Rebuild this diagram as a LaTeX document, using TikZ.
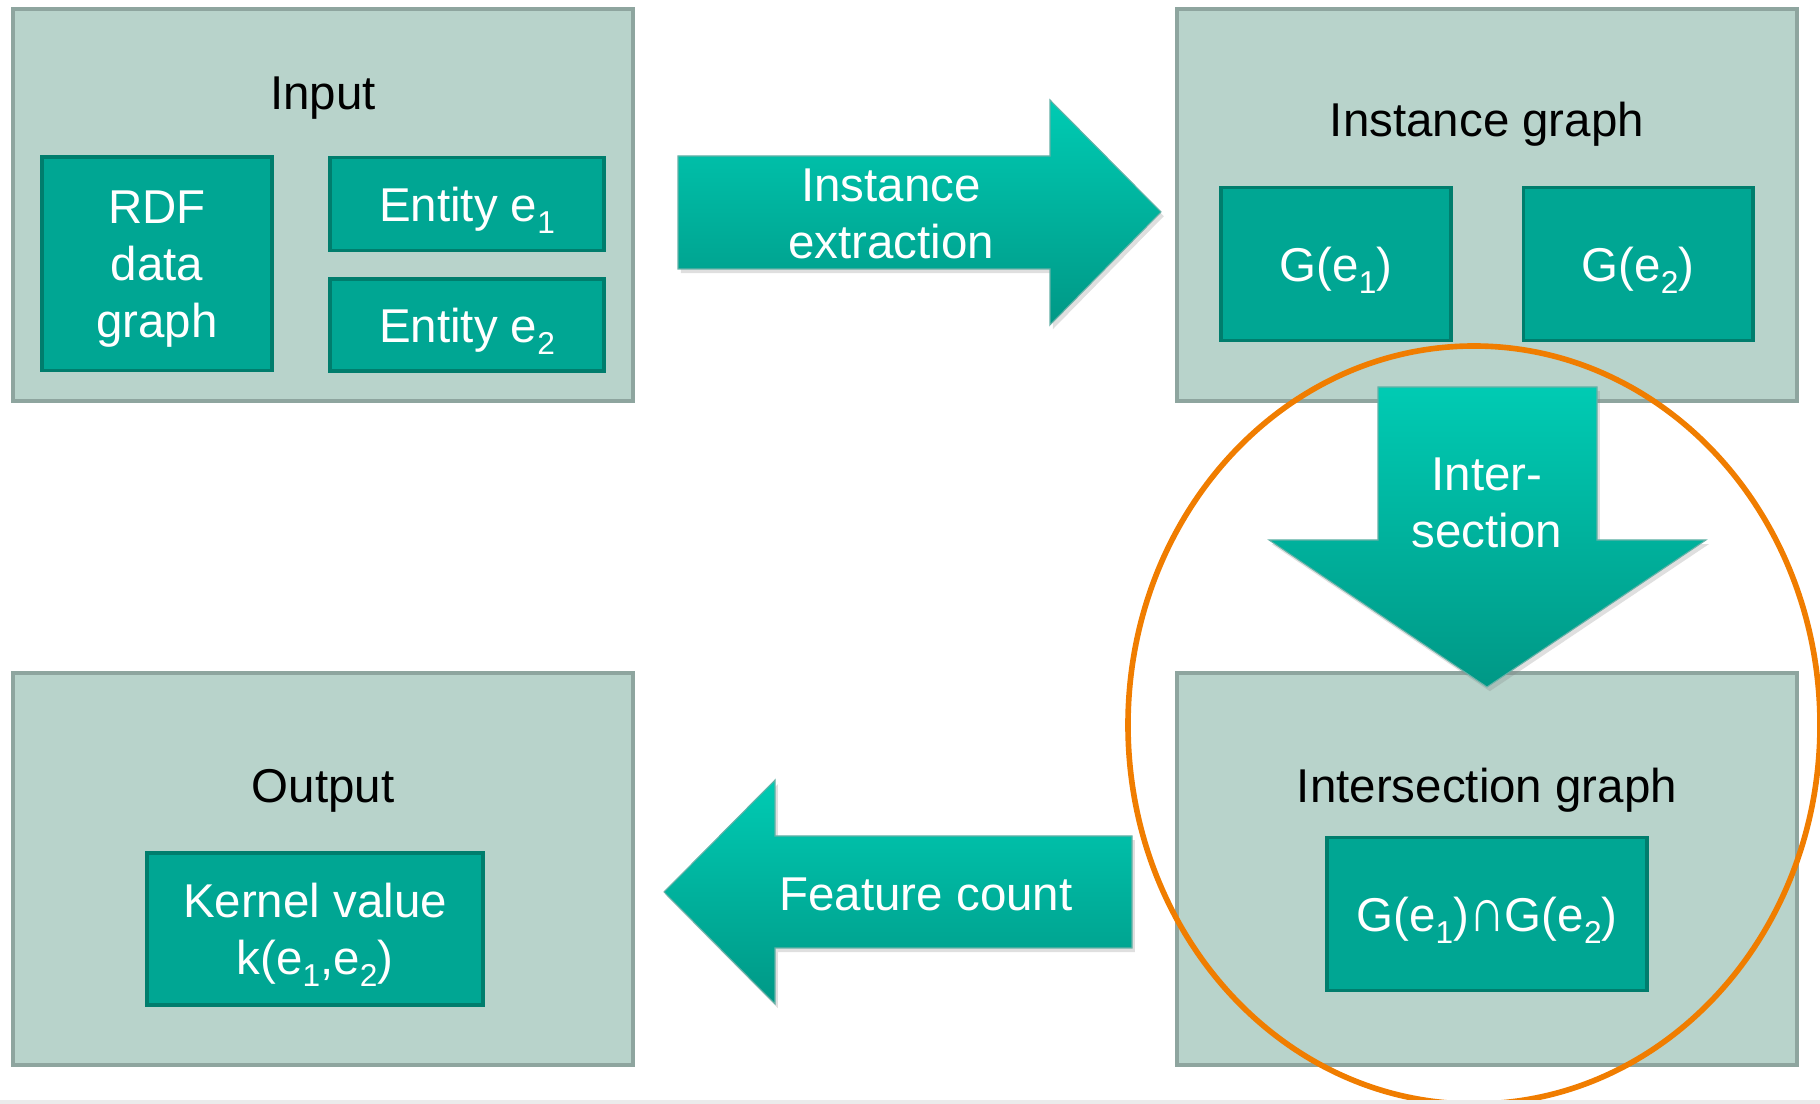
\documentclass[tikz,border=0pt]{standalone}
\usepackage{fontspec}
\setmainfont{Liberation Sans}
\usepackage{tikz}
\usetikzlibrary{positioning,shadows}

\definecolor{panelfill}{HTML}{B8D3CB}
\definecolor{paneledge}{HTML}{8EA59F}
\definecolor{itemfill}{HTML}{00A693}
\definecolor{itemedge}{HTML}{007D6D}
\definecolor{arrowtop}{HTML}{00CBB3}
\definecolor{arrowbot}{HTML}{009886}
\definecolor{ringorange}{HTML}{F07D00}

\newcommand{\labelfont}{\fontsize{13.5pt}{16.2pt}\selectfont}
% entity index, set low and small
\newcommand{\lowidx}[1]{\raisebox{-3.4pt}{\fontsize{9pt}{9pt}\selectfont #1}}
\newcommand{\capsym}{\scalebox{1.05}[1.3]{∩}}

\tikzstyle{panel} = [draw=paneledge, fill=panelfill, line width=1.1pt,
	minimum width=6.2cm, minimum height=3.92cm, inner sep=0pt]
\tikzstyle{item} = [draw=itemedge, fill=itemfill, line width=1.1pt,
	text=white, align=center, font=\labelfont, inner sep=0pt, text depth=0pt]
\tikzstyle{title} = [anchor=base, font=\labelfont]
\tikzstyle{blockarrow} = [top color=arrowtop, bottom color=arrowbot,
	draw=itemedge!60, line width=0.3pt,
	drop shadow={shadow xshift=0.8pt, shadow yshift=-1.2pt, opacity=0.25}]
\tikzstyle{arrowtext} = [text=white, align=center, font=\labelfont, text depth=0pt]

\begin{document}
\begin{tikzpicture}[x=0.01cm, y=-0.01cm]
	\useasboundingbox (0,0) rectangle (1820,1104);

	% the four stages
	\node[panel] (input) at (323,205) {};
	\node[panel] (instance) at (1487,205) {};
	\node[panel] (output) at (323,869) {};
	\node[panel] (inters) at (1487,869) {};

	\node[title] (inputtitle) at (323,110) {Input};
	\node[title] (instancetitle) at (1487,137) {Instance graph};
	\node[title] (outputtitle) at (323,803) {Output};
	\node[title] (interstitle) at (1487,803) {Intersection graph};

	% contents of each stage
	\node[item, minimum width=2.30cm, minimum height=2.13cm] (rdf) at (157,264) {RDF\\data\\graph};
	\node[item, minimum width=2.74cm, minimum height=0.93cm] (ent1) at (467,204) {Entity e\lowidx{1}};
	\node[item, minimum width=2.74cm, minimum height=0.92cm] (ent2) at (467,325) {Entity e\lowidx{2}};

	\node[item, minimum width=2.30cm, minimum height=1.53cm] (g1) at (1336,264) {G(e\lowidx{1})};
	\node[item, minimum width=2.29cm, minimum height=1.53cm] (g2) at (1638,264) {G(e\lowidx{2})};

	\node[item, minimum width=3.20cm, minimum height=1.53cm] (gcap) at (1487,914) {G(e\lowidx{1})\capsym G(e\lowidx{2})};
	\node[item, minimum width=3.36cm, minimum height=1.52cm] (kernel) at (315,929) {Kernel value\\k(e\lowidx{1},e\lowidx{2})};

	% block arrows between the stages
	\draw[blockarrow] (678,156) -- (1050,156) -- (1050,100) -- (1161,212)
		-- (1050,325) -- (1050,269) -- (678,269) -- cycle;
	\draw[blockarrow] (1378,387) -- (1597,387) -- (1597,540) -- (1706,540)
		-- (1487,687) -- (1269,540) -- (1378,540) -- cycle;
	\draw[blockarrow] (1132,836) -- (775,836) -- (775,780) -- (664,892)
		-- (775,1004) -- (775,948) -- (1132,948) -- cycle;

	\node[arrowtext] (extract) at (891,214) {Instance\\extraction};
	\node[arrowtext] (intersect) at (1487,503) {Inter-\\section};
	\node[arrowtext] (count) at (926,894) {Feature count};

	% highlight round the intersection step
	\draw[ringorange, line width=1.6pt] (1474,725) ellipse [x radius=346, y radius=379];

	\fill[black!8] (0,1100) rectangle (1820,1104);
\end{tikzpicture}
\end{document}
